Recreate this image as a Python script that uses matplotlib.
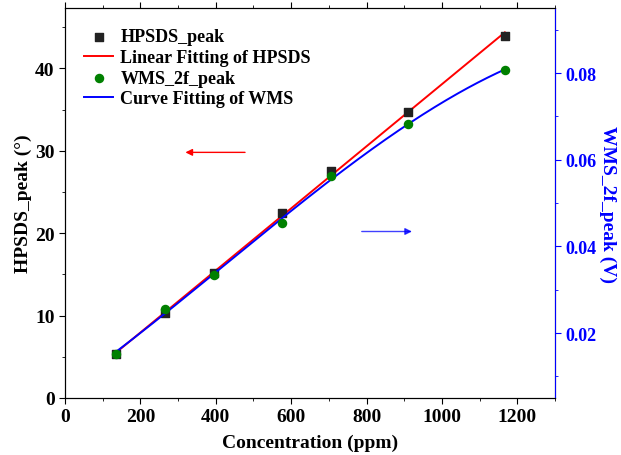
import numpy as np
import matplotlib.pyplot as plt
from matplotlib.ticker import MultipleLocator

plt.rcParams['font.family'] = ['Liberation Serif', 'DejaVu Serif']
plt.rcParams['font.weight'] = 'bold'

conc = [135, 266, 395, 577, 705, 910, 1167]
hpsds = [5.3, 10.3, 15.15, 22.4, 27.5, 34.75, 43.95]
wms = [0.0152, 0.0256, 0.0334, 0.0455, 0.0562, 0.0682, 0.0808]

conc_arr = np.array(conc)
lin = np.polyfit(conc_arr, hpsds, 1)
curve = np.polyfit(conc_arr, wms, 3)
xs = np.linspace(conc_arr.min(), conc_arr.max(), 200)

fig = plt.figure(figsize=(6.21, 4.56), dpi=100)
ax = fig.add_axes([0.1047, 0.125, 0.789, 0.855])
ax2 = ax.twinx()

p1 = ax.scatter(conc, hpsds, marker='s', s=30, color='#222222', zorder=3)
l1, = ax.plot(xs, np.polyval(lin, xs), color='red', lw=1.4)
p2 = ax2.scatter(conc, wms, marker='o', s=34, color='green', zorder=3)
l2, = ax2.plot(xs, np.polyval(curve, xs), color='blue', lw=1.4)

ax.set_xlim(0, 1300)
ax.set_ylim(0, 47.3)
ax2.set_ylim(0.005, 0.095)

ax.xaxis.set_major_locator(MultipleLocator(200))
ax.xaxis.set_minor_locator(MultipleLocator(100))
ax.yaxis.set_major_locator(MultipleLocator(10))
ax.yaxis.set_minor_locator(MultipleLocator(5))
ax2.yaxis.set_major_locator(MultipleLocator(0.02))
ax2.yaxis.set_minor_locator(MultipleLocator(0.01))

ax.tick_params(which='both', direction='out', labelsize=14, top=True)
ax.tick_params(which='major', length=4)
ax.tick_params(which='minor', length=2.5)
ax2.tick_params(which='both', direction='out', colors='blue', labelsize=13)
ax2.tick_params(which='major', length=4)
ax2.tick_params(which='minor', length=2.5)
ax2.spines['right'].set_color('blue')

ax.set_xlabel('Concentration (ppm)', fontsize=14, fontweight='bold', labelpad=6)
ax.set_ylabel('HPSDS_peak (°)', fontsize=14, fontweight='bold', labelpad=2)
ax2.set_ylabel('WMS_2f_peak (V)', fontsize=14, fontweight='bold', color='blue',
               rotation=270, labelpad=14)

ax.annotate('', xy=(312, 29.8), xytext=(485, 29.8),
            arrowprops=dict(arrowstyle='-|>', color='red', lw=1, mutation_scale=10))
ax.annotate('', xy=(928, 20.2), xytext=(780, 20.2),
            arrowprops=dict(arrowstyle='-|>', color='blue', lw=1, mutation_scale=10, alpha=0.75))

ax.legend([p1, l1, p2, l2],
          ['HPSDS_peak', 'Linear Fitting of HPSDS', 'WMS_2f_peak', 'Curve Fitting of WMS'],
          loc='upper left', frameon=False, handlelength=1.6, handletextpad=0.4,
          borderaxespad=0.4, labelspacing=0.2, bbox_to_anchor=(0.01, 0.985),
          prop={'weight': 'bold', 'size': 13})

fig.savefig('out.png', dpi=100)
